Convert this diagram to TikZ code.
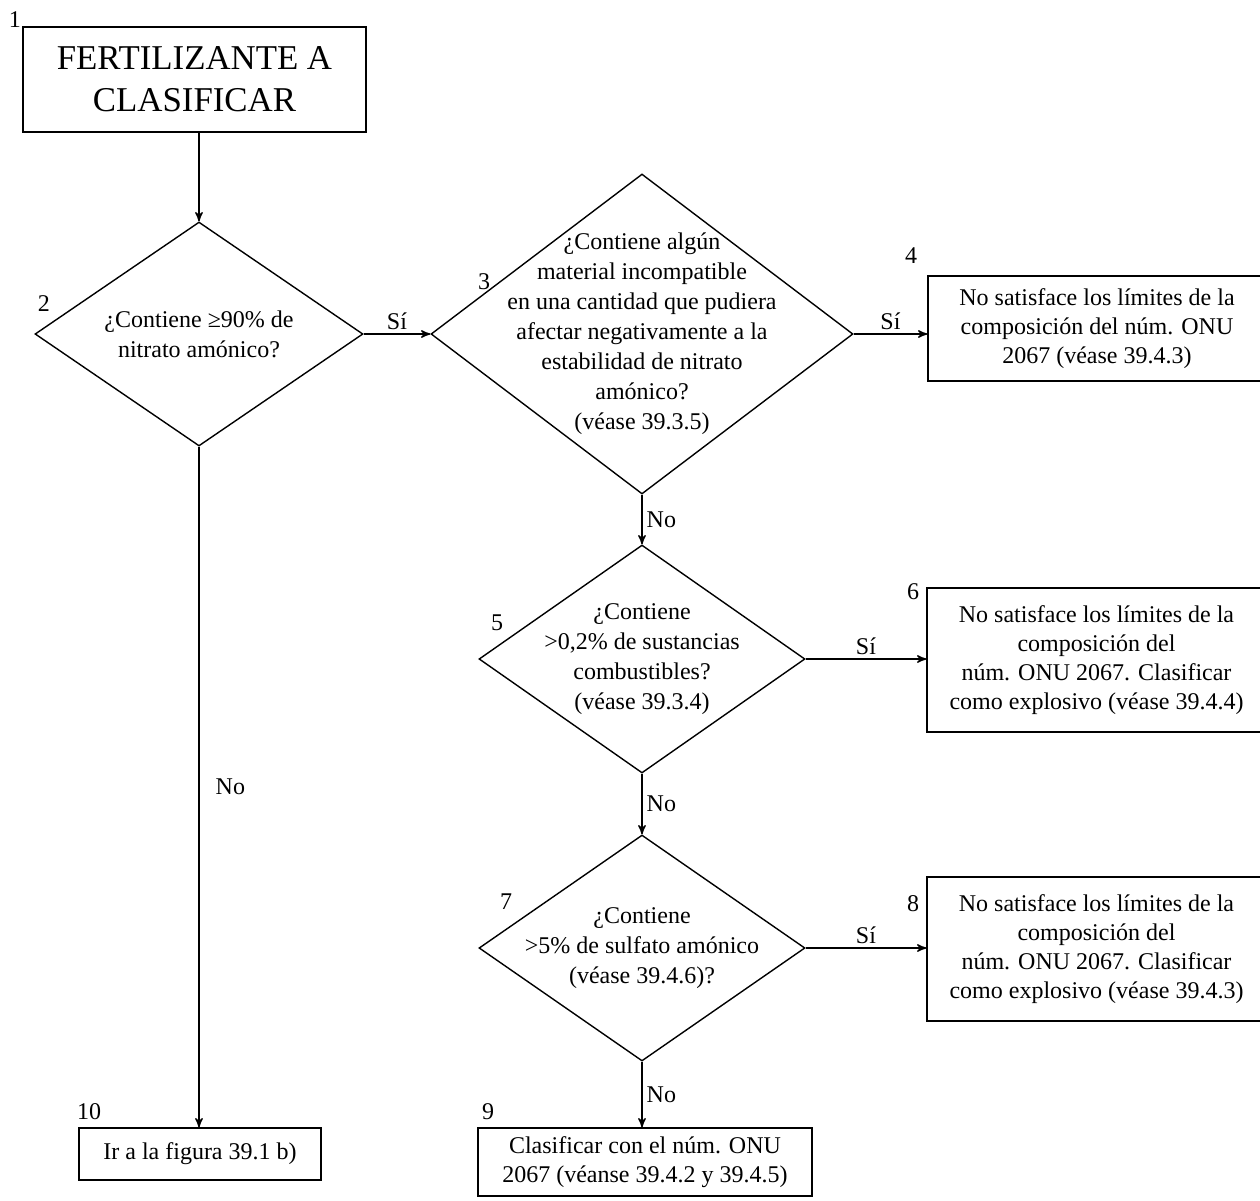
\documentclass[tikz,border=0pt]{standalone}
\usepackage{fontspec}
\setmainfont{Liberation Serif}
\usetikzlibrary{arrows, shapes.geometric, positioning}
\tikzset{
  box/.style={draw, rectangle, inner sep=0pt, align=center, font=\fontsize{12}{14.5}\selectfont},
  decision/.style={draw, diamond, inner sep=0pt},
  question/.style={align=center, inner sep=0pt, font=\fontsize{12}{15}\selectfont},
  num/.style={inner sep=0pt, font=\fontsize{12}{14}\selectfont},
  answer/.style={inner sep=2pt, font=\fontsize{12}{14}\selectfont}
}

\begin{document}
\begin{tikzpicture}[x=0.5pt, y=-0.5pt, >=stealth', line width=0.7pt]
\useasboundingbox (0,0) rectangle (1260,1201);
% boxes and decisions
\node[box, minimum width=171.5pt, minimum height=52.5pt, font=\fontsize{17.4}{21}\selectfont] (q1) at (194.5,79.5) {FERTILIZANTE A\\CLASIFICAR};
\node[decision, minimum width=164pt, minimum height=112pt] (q2) at (199,334) {};
\node[question] (t2) at (q2) {¿Contiene ≥90\% de\\nitrato amónico?};
\node[decision, minimum width=211pt, minimum height=160pt] (q3) at (642,334) {};
\node[question] (t3) at (q3) {¿Contiene algún\\material incompatible\\en una cantidad que pudiera\\afectar negativamente a la\\estabilidad de nitrato\\amónico?\\(véase 39.3.5)};
\node[box, minimum width=169pt, minimum height=52.5pt] (q4) at (1097,328.5) {No satisface los límites de la\\composición del núm. ONU\\2067 (véase 39.4.3)};
\node[decision, minimum width=163pt, minimum height=114pt] (q5) at (642,659) {};
\node[question] (t5) at (q5) {¿Contiene\\>0,2\% de sustancias\\combustibles?\\(véase 39.3.4)};
\node[box, minimum width=169.5pt, minimum height=72pt] (q6) at (1096.5,660) {No satisface los límites de la\\composición del\\núm. ONU 2067. Clasificar\\como explosivo (véase 39.4.4)};
\node[decision, minimum width=163pt, minimum height=113pt] (q7) at (642,948) {};
\node[question] (t7) at (q7) {¿Contiene\\>5\% de sulfato amónico\\(véase 39.4.6)?};
\node[box, minimum width=169.5pt, minimum height=72pt] (q8) at (1096.5,949) {No satisface los límites de la\\composición del\\núm. ONU 2067. Clasificar\\como explosivo (véase 39.4.3)};
\node[box, minimum width=167pt, minimum height=34pt] (q9) at (645,1162) {Clasificar con el núm. ONU\\2067 (véanse 39.4.2 y 39.4.5)};
\node[box, minimum width=121pt, minimum height=26pt] (q10) at (200,1154) {Ir a la figura 39.1 b)};
% step numbers
\node[num] (n1) at (15,20) {1};
\node[num] (n2) at (44,304) {2};
\node[num] (n3) at (484,282) {3};
\node[num] (n4) at (911,256) {4};
\node[num] (n5) at (497,623) {5};
\node[num] (n6) at (913,592) {6};
\node[num] (n7) at (506,902) {7};
\node[num] (n8) at (913,904) {8};
\node[num] (n9) at (488,1112) {9};
\node[num] (n10) at (89,1112) {10};
% connectors
\draw[->] (q1.south -| q2.north) -- (q2.north);
\draw[->] (q2.east) -- node[answer, above]{Sí} (q3.west);
\draw[->] (q3.east) -- node[answer, above]{Sí} (q3.east -| q4.west);
\draw[->] (q3.south) -- node[answer, right]{No} (q5.north);
\draw[->] (q5.east) -- node[answer, above]{Sí} (q5.east -| q6.west);
\draw[->] (q5.south) -- node[answer, right]{No} (q7.north);
\draw[->] (q7.east) -- node[answer, above]{Sí} (q7.east -| q8.west);
\draw[->] (q7.south) -- node[answer, right]{No} (q7.south |- q9.north);
\draw[->] (q2.south) -- node[answer, right=6pt]{No} (q2.south |- q10.north);
\end{tikzpicture}
\end{document}
